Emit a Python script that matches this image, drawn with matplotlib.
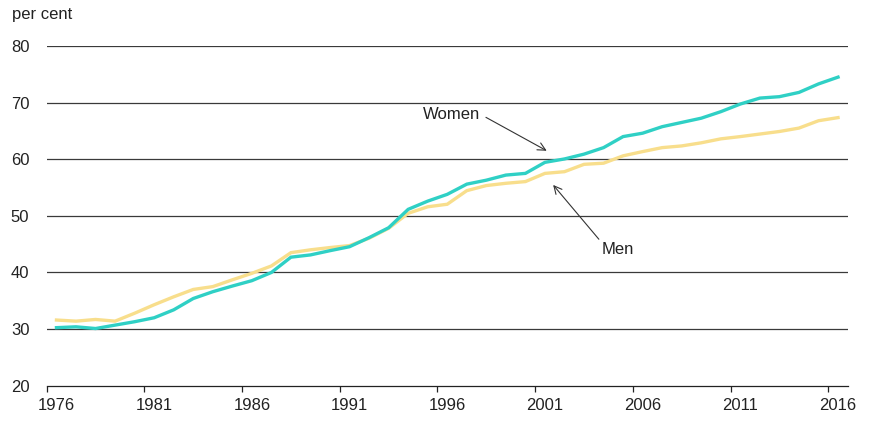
import matplotlib
matplotlib.use("Agg")
import matplotlib.pyplot as plt
import numpy as np

years = list(range(1976, 2017))
women = [30.25, 30.4, 30.1, 30.7, 31.3, 32.0, 33.4, 35.4, 36.6, 37.6,
         38.55, 40.0, 42.7, 43.1, 43.85, 44.55, 46.15, 47.9, 51.15, 52.6,
         53.8, 55.6, 56.3, 57.2, 57.5, 59.45, 60.05, 60.9, 62.05, 64.0,
         64.6, 65.75, 66.5, 67.25, 68.4, 69.75, 70.8, 71.05, 71.8, 73.3, 74.5]
men = [31.6, 31.4, 31.7, 31.4, 32.8, 34.3, 35.7, 37.0, 37.5, 38.7,
       39.85, 41.15, 43.5, 44.0, 44.4, 44.75, 46.05, 47.8, 50.45, 51.6,
       52.05, 54.45, 55.35, 55.75, 56.05, 57.5, 57.8, 59.1, 59.3, 60.6,
       61.35, 62.05, 62.35, 62.9, 63.6, 64.0, 64.45, 64.9, 65.5, 66.8, 67.35]
y_ticks = [20, 30, 40, 50, 60, 70, 80]
label_years = [1976, 1981, 1986, 1991, 1996, 2001, 2006, 2011, 2016]

plt.rcParams['font.family'] = ['Liberation Sans', 'DejaVu Sans']
FS = 12
TXT = '#222222'

fig = plt.figure(figsize=(8.71, 4.24), dpi=100)
ax = fig.add_axes([46.7 / 871, 1 - 385.7 / 424, (847.8 - 46.7) / 871, (385.7 - 46) / 424])

idx = np.arange(len(years))
ax.plot(idx, men, color='#F8DE8C', lw=2.4, solid_joinstyle='miter', zorder=3)
ax.plot(idx, women, color='#2FD0C5', lw=2.4, solid_joinstyle='miter', zorder=4)

ax.set_xlim(-0.5, len(years) - 0.5)
ax.set_ylim(20, 80)

# gridlines
ax.set_yticks(y_ticks)
ax.set_yticklabels([str(v) for v in y_ticks], fontsize=FS, color=TXT)
ax.tick_params(axis='y', length=0, pad=12.5)
for v in y_ticks[1:]:
    ax.axhline(v, color='#3a3a3a', lw=0.9, zorder=1)

# x axis: ticks at category boundaries, labels at centers
lab_idx = [years.index(y) for y in label_years]
ax.set_xticks([i - 0.5 for i in lab_idx])
ax.set_xticklabels([])
ax.set_xticks(lab_idx, minor=True)
ax.set_xticklabels([str(y) for y in label_years], minor=True, fontsize=FS, color=TXT)
ax.tick_params(axis='x', which='major', length=4, width=0.9, color='#222222', direction='out')
ax.tick_params(axis='x', which='minor', length=0, pad=8.5)

for s in ['top', 'right', 'left']:
    ax.spines[s].set_visible(False)
ax.spines['bottom'].set_color('#222222')
ax.spines['bottom'].set_linewidth(0.9)

fig.text(11.7 / 871, 1 - 15 / 424, 'per cent', fontsize=FS, color=TXT, ha='left', va='center')

# annotations
ax.text(21.67, 67.95, 'Women', fontsize=FS, color=TXT, ha='right', va='center')
ax.annotate('', xy=(25.09, 61.5), xytext=(21.98, 67.4),
            arrowprops=dict(arrowstyle='->', lw=0.8, color='#333333', mutation_scale=14,
                            shrinkA=0, shrinkB=0))
ax.text(27.9, 44.0, 'Men', fontsize=FS, color=TXT, ha='left', va='center')
ax.annotate('', xy=(25.42, 55.46), xytext=(27.76, 45.87),
            arrowprops=dict(arrowstyle='->', lw=0.8, color='#333333', mutation_scale=14,
                            shrinkA=0, shrinkB=0))

fig.savefig('out.png', dpi=100)
